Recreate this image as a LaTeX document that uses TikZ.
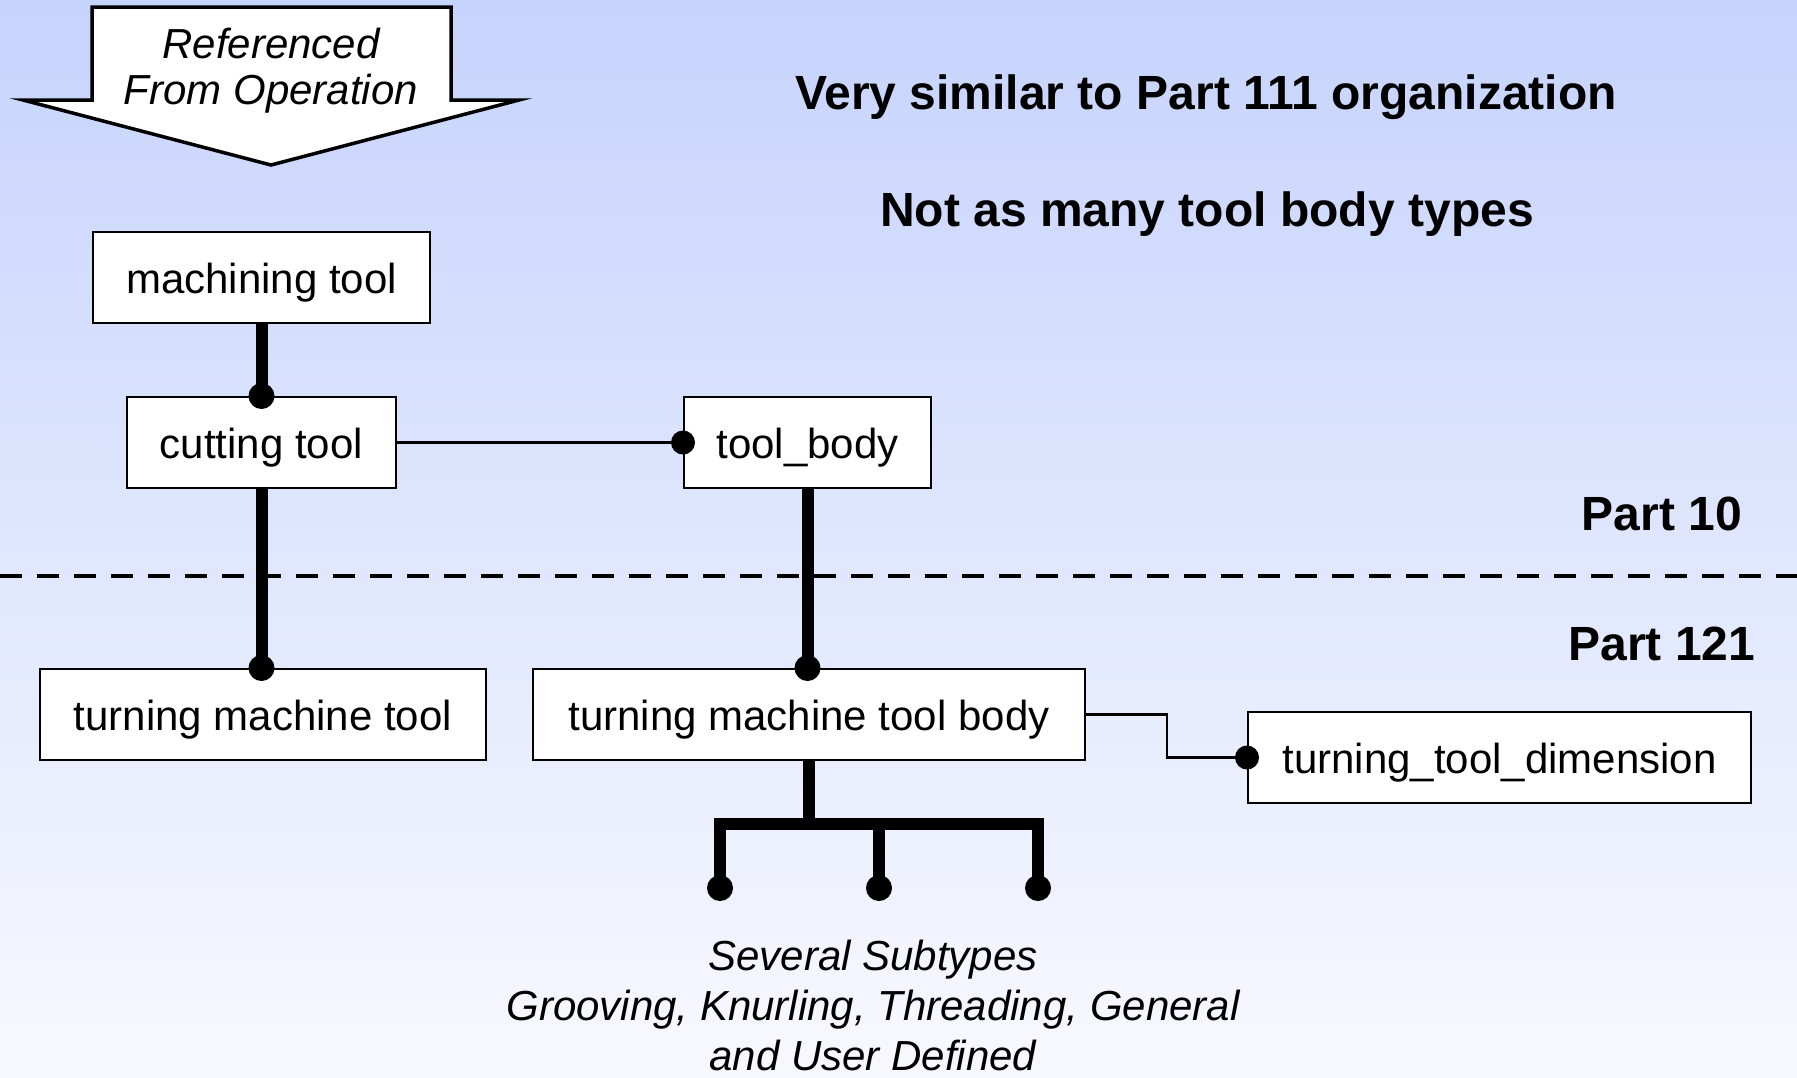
\documentclass[tikz,border=0pt]{standalone}
\usepackage{fontspec}
\setmainfont{Liberation Sans}
\begin{document}
\begin{tikzpicture}[x=1pt,y=-1pt,
  entity/.style={draw=black,line width=2,fill=white,minimum height=91,inner sep=0,
    text height=35,text depth=3,font=\fontsize{42}{46}\selectfont},
  heavy/.style={line width=12},
  light/.style={line width=2.2},
  blob/.style={fill=black},
  heading/.style={font=\fontsize{48}{52}\selectfont\bfseries,anchor=base},
  note/.style={font=\fontsize{42}{50}\selectfont\itshape,align=center,inner sep=0}]
% page and background
\useasboundingbox (0,0) rectangle (1797,1077);
\shade[top color={rgb,255:red,198;green,211;blue,252},
       bottom color={rgb,255:red,248;green,249;blue,255}] (0,0) rectangle (1797,1077);

% incoming reference arrow
\draw[line width=3.5,fill=white,line join=miter]
  (92,7) -- (451,7) -- (451,100) -- (519,100) -- (271,165) -- (23,100) -- (92,100) -- cycle;
\node[font=\fontsize{42}{46}\selectfont\itshape,align=center,inner sep=0] (ref) at (271,71)
  {Referenced\\From Operation};

% headings
\node[heading] (h1) at (1206,109) {Very similar to Part 111 organization};
\node[heading] (h2) at (1207,226) {Not as many tool body types};
\node[heading] (p10) at (1662,530) {Part 10};
\node[heading] (p121) at (1662,660) {Part 121};

% schema boundary
\draw[line width=4,dash pattern=on 22 off 15] (0,576) -- (1797,576);

% entities
\node[entity,minimum width=337] (mt) at (261.5,277.5) {machining tool};
\node[entity,minimum width=269] (ct) at (261.5,442.5) {cutting tool};
\node[entity,minimum width=247] (tb) at (807.5,442.5) {tool\_body};
\node[entity,minimum width=446] (tmt) at (263,714.5) {turning machine tool};
\node[entity,minimum width=552] (tmtb) at (809,714.5) {turning machine tool body};
\node[entity,minimum width=503] (ttd) at (1499.5,757.5) {turning\_tool\_dimension};

% subtype relations
\draw[heavy] (mt.south) -- (ct.north);
\fill[blob] (ct.north) circle (13);
\draw[heavy] (ct.south) -- (ct.south |- tmt.north);
\fill[blob] (ct.south |- tmt.north) circle (13);
\draw[heavy] (tb.south) -- (tb.south |- tmtb.north);
\fill[blob] (tb.south |- tmtb.north) circle (13);

% attribute relations
\draw[light] (ct.east) -- (tb.west);
\fill[blob] (tb.west) circle (12);
\draw[light] (tmtb.east) -- ++(81,0) |- (ttd.west);
\fill[blob] (ttd.west) circle (12);

% subtype fan
\coordinate (s1) at (720,888);
\coordinate (s2) at (879,888);
\coordinate (s3) at (1038,888);
\coordinate (bar) at (809,824);
\draw[heavy] (tmtb.south) -- (tmtb.south |- bar);
\draw[heavy,line join=miter] (s1) -- (s1 |- bar) -- (s3 |- bar) -- (s3);
\draw[heavy] (s2 |- bar) -- (s2);
\foreach \s in {s1,s2,s3} \fill[blob] (\s) circle (13);

\node[note] (sub) at (873,1005)
  {Several Subtypes\\Grooving, Knurling, Threading, General\\and User Defined};
\end{tikzpicture}
\end{document}
